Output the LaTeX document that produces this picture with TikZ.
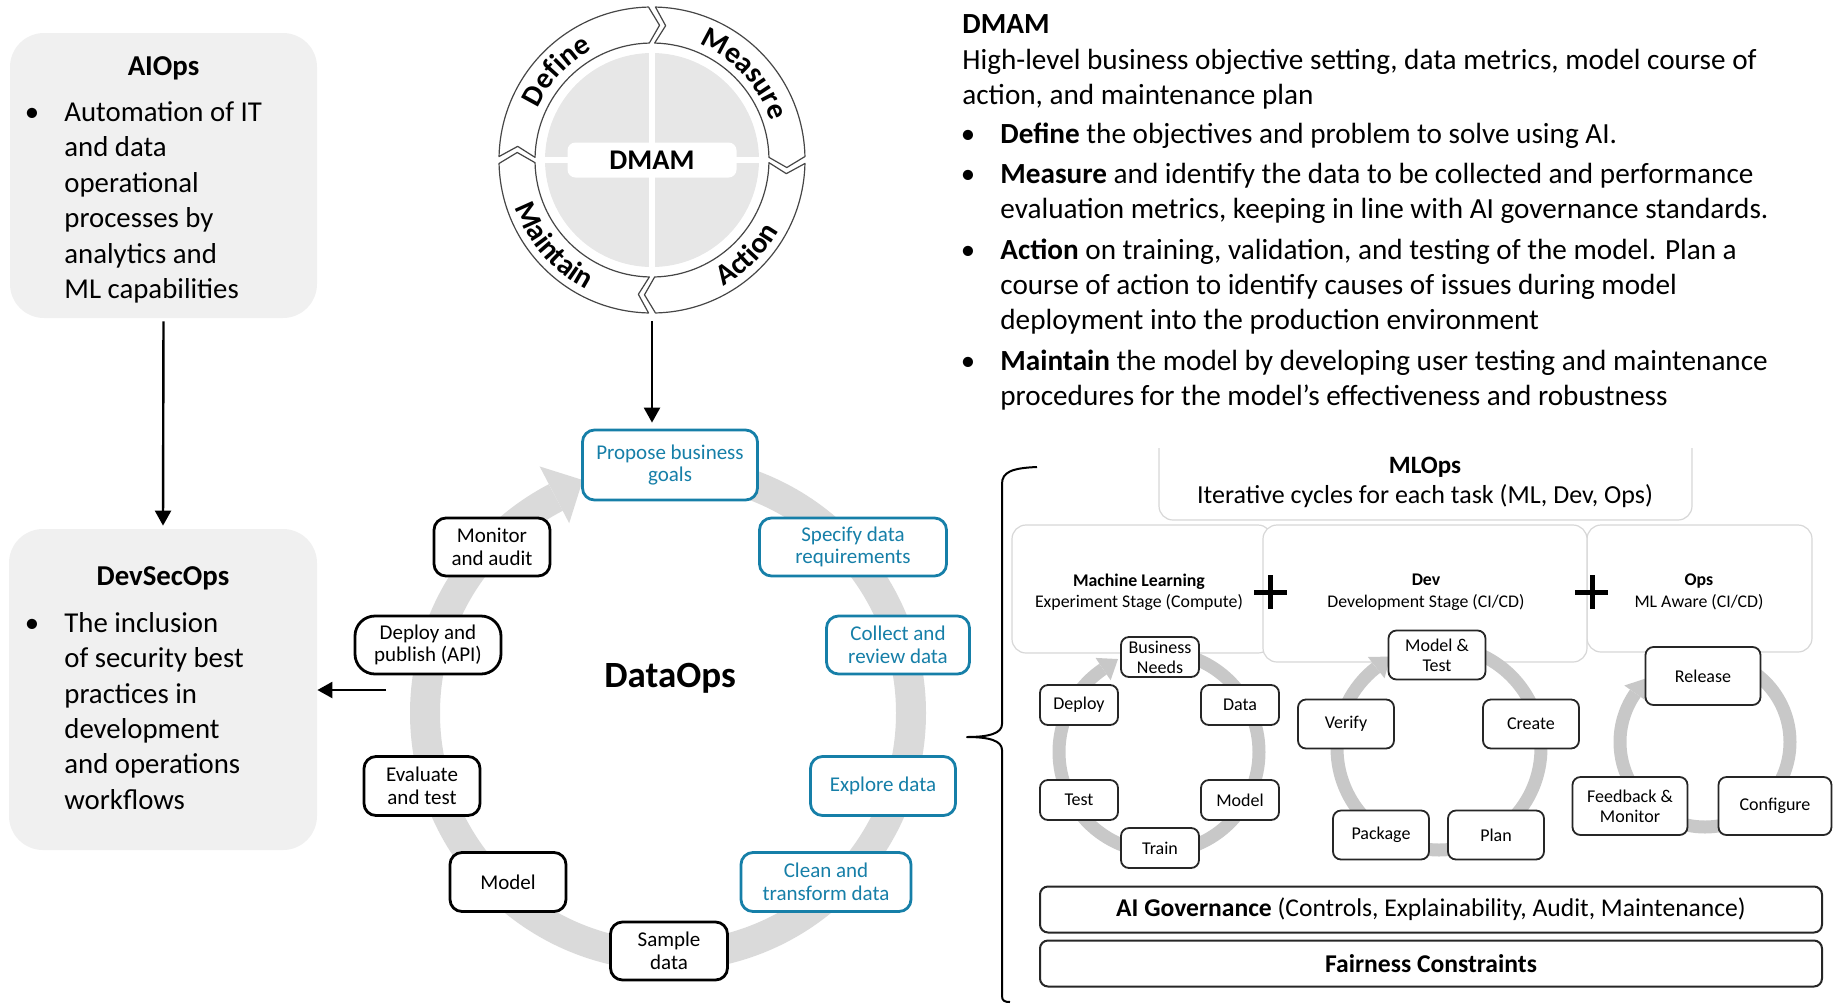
\documentclass[tikz,border=0pt]{standalone}
\usepackage{fontspec}
\setmainfont{Carlito}
\usetikzlibrary{calc,decorations.text,arrows.meta}
\definecolor{bluec}{RGB}{22,127,168}
\definecolor{panelgray}{RGB}{240,240,240}
\definecolor{ringgray}{RGB}{218,218,218}
\definecolor{smallring}{RGB}{200,200,200}
\definecolor{discgray}{RGB}{231,231,231}
\definecolor{segline}{RGB}{70,70,70}
\definecolor{panelline}{RGB}{215,215,215}
\newcommand\ringfont{\fontsize{14.8}{15}\selectfont\bfseries}
\begin{document}
\begin{tikzpicture}[x=0.5pt,y=0.5pt,line join=round,
  arr/.style={line width=1.2pt,-{Triangle[length=7.5pt,width=8pt]}},
  graybox/.style={fill=panelgray,rounded corners=17pt,inner sep=0pt},
  body/.style={font=\fontsize{14.4}{17.5}\selectfont,inner sep=0pt,anchor=base west},
  rbody/.style={font=\fontsize{14.6}{17.5}\selectfont,inner sep=0pt,anchor=base west},
  bodyb/.style={font=\fontsize{14.4}{17.5}\selectfont\bfseries,inner sep=0pt,anchor=base},
  bul/.style={font=\fontsize{14.4}{17.5}\selectfont,inner sep=0pt,anchor=base},
  dbox/.style={fill=white,line width=1.4pt,rounded corners=6pt,align=center,inner sep=0pt,font=\fontsize{10.5}{11.25}\selectfont},
  bbox/.style={dbox,draw=bluec,text=bluec},
  kbox/.style={dbox,draw=black},
  sbox/.style={fill=white,draw=black!85,line width=0.9pt,rounded corners=4pt,align=center,inner sep=0pt,font=\fontsize{9}{10}\selectfont},
  seg/.style={fill=white,draw=segline,line width=0.6pt},
  panel/.style={fill=white,draw=panelline,line width=0.6pt,rounded corners=7pt},
  ringline/.style={draw=ringgray,line width=15pt},
  sring/.style={draw=smallring,line width=6.5pt},
  govbox/.style={fill=white,draw=black!85,line width=1pt,rounded corners=4pt,inner sep=0pt,minimum width=391pt,minimum height=23pt,font=\fontsize{12.8}{14}\selectfont},
  ptxt/.style={anchor=base,inner sep=0pt,font=\fontsize{8.9}{10}\selectfont},
  ptxtb/.style={anchor=base,inner sep=0pt,font=\fontsize{8.9}{10}\selectfont\bfseries},
]
\useasboundingbox (0,0) rectangle (1833,-1003);

% ---------------- left boxes
\node[graybox,minimum width=153.5pt,minimum height=142.5pt] (aiops) at (163.5,-175.5) {};
\node[bodyb] (aiopsT) at (163.5,-75) {AIOps};
\node[bul] (aib) at (32,-121) {•};
\node[body] (ai1) at (64,-121) {Automation of IT};
\node[body] (ai2) at (64,-156) {and data};
\node[body] (ai3) at (64,-192) {operational};
\node[body] (ai4) at (64,-227) {processes by};
\node[body] (ai5) at (64,-263) {analytics and};
\node[body] (ai6) at (64,-298) {ML capabilities};

\node[graybox,minimum width=154pt,minimum height=160.5pt] (devsec) at (163,-689.5) {};
\node[bodyb] (devT) at (163,-585) {DevSecOps};
\node[bul] (dvb) at (32,-632) {•};
\node[body] (dv1) at (64,-632) {The inclusion};
\node[body] (dv2) at (64,-667) {of security best};
\node[body] (dv3) at (64,-703) {practices in};
\node[body] (dv4) at (64,-738) {development};
\node[body] (dv5) at (64,-773) {and operations};
\node[body] (dv6) at (64,-809) {workflows};

\draw[arr,shorten <=1.5pt,shorten >=1.5pt] (aiops.south) -- (devsec.north);

% ---------------- DMAM ring
\coordinate (mc) at (652,-160);
\node[circle,inner sep=0pt,minimum size=153pt] (dmam) at (mc) {};
\fill[discgray] (mc) circle[radius=107];
\draw[white,line width=3pt] ($(mc)+(0,107)$) -- ($(mc)+(0,-107)$);
\draw[white,line width=3pt] ($(mc)+(-107,0)$) -- ($(mc)+(107,0)$);
\node[fill=white,rounded corners=4pt,minimum width=84.5pt,minimum height=17.5pt,inner sep=0pt,font=\fontsize{14.25}{15}\selectfont\bfseries] (dmamlbl) at (mc) {DMAM};
\foreach \a in {180,90,0,-90}{
  \draw[seg] ($(mc)+({\a-1.3}:153)$) arc[start angle={\a-1.3},end angle={\a-90+1.3},radius=153]
    -- ($(mc)+({\a-90+1.3-4.5}:135)$) -- ($(mc)+({\a-90+1.3}:117)$)
    arc[start angle={\a-90+1.3},end angle={\a-1.3},radius=117]
    -- ($(mc)+({\a-1.3-4.5}:135)$) -- cycle;
}
\path[decorate,decoration={text along path,text={|\ringfont|Define},text align=center}]
  ($(mc)+(170:125)$) arc[start angle=170,end angle=104,radius=125];
\path[decorate,decoration={text along path,text={|\ringfont|Measure},text align=center}]
  ($(mc)+(77:125)$) arc[start angle=77,end angle=9,radius=125];
\path[decorate,decoration={text along path,text={|\ringfont|Action},text align=center}]
  ($(mc)+(-80:145)$) arc[start angle=-80,end angle=-10,radius=145];
\path[decorate,decoration={text along path,text={|\ringfont|Maintain},text align=center}]
  ($(mc)+(185:145)$) arc[start angle=185,end angle=257,radius=145];

% ---------------- DMAM description
\node[rbody,font=\fontsize{14.6}{17.5}\selectfont\bfseries] (dmT) at (962,-33) {DMAM};
\node[rbody] (dm1) at (962,-69) {High-level business objective setting, data metrics, model course of};
\node[rbody] (dm2) at (962,-104) {action, and maintenance plan};
\node[bul] (b1) at (968,-143) {•};
\node[rbody] (d1) at (1000,-143) {\textbf{Define} the objectives and problem to solve using AI.};
\node[bul] (b2) at (968,-183) {•};
\node[rbody] (m1) at (1000,-183) {\textbf{Measure} and identify the data to be collected and performance};
\node[rbody] (m2) at (1000,-218) {evaluation metrics, keeping in line with AI governance standards.};
\node[bul] (b3) at (968,-259) {•};
\node[rbody] (a1) at (1000,-259) {\textbf{Action} on training, validation, and testing of the model. Plan a};
\node[rbody] (a2) at (1000,-294) {course of action to identify causes of issues during model};
\node[rbody] (a3) at (1000,-329) {deployment into the production environment};
\node[bul] (b4) at (968,-370) {•};
\node[rbody] (t1) at (1000,-370) {\textbf{Maintain} the model by developing user testing and maintenance};
\node[rbody] (t2) at (1000,-405) {procedures for the model’s effectiveness and robustness};

% ---------------- DataOps cycle
\coordinate (oc) at (668,-713);
\draw[ringline] ($(oc)+(90:243)$) arc[start angle=450,end angle=117.5,radius=243];
\fill[ringgray] ($(oc)+(117.5:278)$) -- ($(oc)+(117.5:214)$) -- ($(oc)+(117.5:246)+(27.5:32)$) -- cycle;

\node[bbox,minimum width=87.5pt,minimum height=35pt] (propose) at (670,-465) {Propose business\\goals};
\node[bbox,minimum width=93.5pt,minimum height=29pt] (specify) at (853,-547) {Specify data\\requirements};
\node[bbox,minimum width=71.5pt,minimum height=29pt] (collect) at (898,-645) {Collect and\\review data};
\node[bbox,minimum width=72.5pt,minimum height=29.5pt] (explore) at (883,-786) {Explore data};
\node[bbox,minimum width=85pt,minimum height=29.5pt] (clean) at (826,-882) {Clean and\\transform data};
\node[kbox,minimum width=58.5pt,minimum height=29pt] (sample) at (669,-951) {Sample\\data};
\node[kbox,minimum width=58pt,minimum height=29.5pt] (modeld) at (508,-882) {Model};
\node[kbox,minimum width=58pt,minimum height=29.5pt] (evaluate) at (422,-786) {Evaluate\\and test};
\node[kbox,rounded corners=10pt,minimum width=73pt,minimum height=29pt] (deploy) at (428,-645) {Deploy and\\publish (API)};
\node[kbox,minimum width=58pt,minimum height=29pt] (monitor) at (492,-547) {Monitor\\and audit};
\node[anchor=base,inner sep=0pt,font=\fontsize{18.5}{20}\selectfont\bfseries] (dataops) at (670,-687) {DataOps};

\draw[arr,shorten <=4pt,shorten >=3pt] (dmam.south) -- (dmam.south |- propose.north);
\coordinate (dvfree) at (386,-690);
\draw[arr] (dvfree) -- (dvfree -| devsec.east);

% ---------------- MLOps
\draw[line width=1pt] (1037,-467) .. controls (1012,-468) and (1002,-472) .. (1002,-484)
  -- (1002,-724) .. controls (1002,-733) and (990,-737) .. (967,-737)
  .. controls (990,-737) and (1002,-741) .. (1002,-750)
  -- (1002,-996) .. controls (1002,-1001) and (1005,-1002) .. (1010,-1002);

\draw[panel] (1012,-525) rectangle (1272,-653);
\draw[panel] (1587,-525) rectangle (1812,-652);
\draw[panel] (1263,-525) rectangle (1587,-662);
\fill[white] (1159,-440) rectangle (1692,-520);
\draw[panelline,line width=0.6pt] (1159,-448) -- (1159,-506) arc[start angle=180,end angle=270,radius=14]
  -- (1678,-520) arc[start angle=270,end angle=360,radius=14] -- (1692,-448);
\node[anchor=base,inner sep=0pt,font=\fontsize{12.5}{14}\selectfont\bfseries] (mlT) at (1425,-473) {MLOps};
\node[anchor=base,inner sep=0pt,font=\fontsize{13}{14}\selectfont] (mlS) at (1425,-503) {Iterative cycles for each task (ML, Dev, Ops)};

\node[ptxtb] (mlh) at (1139,-586) {Machine Learning};
\node[ptxt] (mls) at (1139,-607) {Experiment Stage (Compute)};
\node[ptxtb] (dvh) at (1426,-585) {Dev};
\node[ptxt] (dvs) at (1426,-607) {Development Stage (CI/CD)};
\node[ptxtb] (oph) at (1699,-585) {Ops};
\node[ptxt] (ops) at (1699,-607) {ML Aware (CI/CD)};
\draw[line width=2.5pt] (1254,-592) -- (1287,-592) (1270,-575) -- (1270,-609);
\draw[line width=2.5pt] (1575,-592) -- (1608,-592) (1592,-575) -- (1592,-609);

% ML cycle
\coordinate (mlc) at (1159,-752);
\draw[sring] ($(mlc)+(90:100)$) arc[start angle=450,end angle=124,radius=100];
\fill[smallring] ($(mlc)+(124:113.5)$) -- ($(mlc)+(124:86.5)$) -- ($(mlc)+(124:100)+(34:18)$) -- cycle;
\node[sbox,minimum width=39pt,minimum height=20pt] (bneeds) at (1160,-657) {Business\\Needs};
\node[sbox,minimum width=39pt,minimum height=20pt] (mldeploy) at (1079,-705) {Deploy};
\node[sbox,minimum width=39pt,minimum height=20pt] (mldata) at (1240,-705) {Data};
\node[sbox,minimum width=39pt,minimum height=20pt] (mltest) at (1079,-800) {Test};
\node[sbox,minimum width=39pt,minimum height=20pt] (mlmodel) at (1240,-800) {Model};
\node[sbox,minimum width=39pt,minimum height=20pt] (mltrain) at (1160,-848) {Train};

% Dev cycle
\coordinate (dvc) at (1439,-748);
\draw[sring] ($(dvc)+(90:102)$) arc[start angle=450,end angle=128,radius=102];
\fill[smallring] ($(dvc)+(128:115.5)$) -- ($(dvc)+(128:88.5)$) -- ($(dvc)+(128:102)+(38:18)$) -- cycle;
\node[sbox,minimum width=48.5pt,minimum height=24.5pt] (modeltest) at (1437,-655) {Model \&\\Test};
\node[sbox,minimum width=48pt,minimum height=24.5pt] (verify) at (1346,-724) {Verify};
\node[sbox,minimum width=48pt,minimum height=24.5pt] (create) at (1531,-724) {Create};
\node[sbox,minimum width=48pt,minimum height=24.5pt] (package) at (1381,-835) {Package};
\node[sbox,minimum width=48pt,minimum height=24.5pt] (plan) at (1496,-835) {Plan};

% Ops cycle
\coordinate (opc) at (1705,-742);
\draw[sring] ($(opc)+(90:85)$) arc[start angle=450,end angle=145,radius=85];
\fill[smallring] ($(opc)+(145:98.5)$) -- ($(opc)+(145:71.5)$) -- ($(opc)+(145:85)+(55:18)$) -- cycle;
\node[sbox,minimum width=57.5pt,minimum height=29pt] (release) at (1703,-676) {Release};
\node[sbox,minimum width=57.5pt,minimum height=29pt] (feedback) at (1630,-806) {Feedback \&\\Monitor};
\node[sbox,minimum width=56.5pt,minimum height=29pt] (configure) at (1775,-806) {Configure};

% Governance
\node[govbox] (gov) at (1431,-909.5) {\textbf{AI Governance} (Controls, Explainability, Audit, Maintenance)};
\node[govbox] (fair) at (1431,-963.5) {\textbf{Fairness Constraints}};
\end{tikzpicture}
\end{document}
